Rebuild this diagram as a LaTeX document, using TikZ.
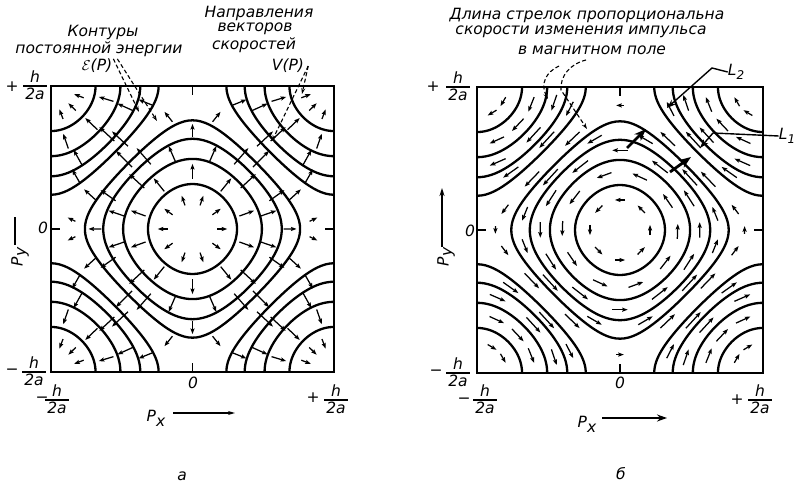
\documentclass[tikz,border=0pt]{standalone}
\usepackage{fontspec}
\setmainfont{DejaVu Sans}
\usetikzlibrary{arrows.meta}

% ring of field arrows: #1 level, #2 parameter list, #3 wrap to corners (0/1), #4 mode (0 gradient, 1 rotated)
\newcommand\vecring[4]{%
  \foreach \tv in {#2}{%
    \pgfmathsetmacro\xo{acos(#1-1)}%
    \pgfmathsetmacro\ax{\xo*sin(\tv)}%
    \pgfmathsetmacro\ay{ifthenelse(cos(\tv)<0,-1,1)*acos(max(-1,min(1,#1-cos(\ax))))}%
    \ifnum#3=1
      \pgfmathsetmacro\ax{ifthenelse(\ax<0,\ax+180,\ax-180)}%
      \pgfmathsetmacro\ay{ifthenelse(\ay<0,\ay+180,\ay-180)}%
    \fi
    \pgfmathsetmacro\vx{sin(\ax)}%
    \pgfmathsetmacro\vy{sin(\ay)}%
    \pgfmathsetmacro\vm{max(sqrt(\vx*\vx+\vy*\vy),0.001)}%
    \pgfmathsetmacro\hl{(5+18*(\vm/1.4142)^1.5)/0.79/2}%
    \ifnum#4=0
      \pgfmathsetmacro\hx{(\vx)/\vm*\hl}\pgfmathsetmacro\hy{(\vy)/\vm*\hl}%
    \else
      \pgfmathsetmacro\hx{0-(\vy)/\vm*\hl}\pgfmathsetmacro\hy{(\vx)/\vm*\hl}%
    \fi
    \draw[varr] ({\ax-(\hx)},{\ay-(\hy)}) -- ({\ax+(\hx)},{\ay+(\hy)});
  }%
}

\newcommand\contourset{%
  \foreach \lev in {1.55,1.03,0.60,0.27}{%
    \pgfmathsetmacro\xo{acos(\lev-1)}%
    \draw[cont] plot[domain=0:360,samples=161,variable=\tv]
      ({\xo*sin(\tv)},{ifthenelse(cos(\tv)<0,-1,1)*acos(max(-1,min(1,\lev-cos(\xo*sin(\tv)))))}) -- cycle;
    \begin{scope}
      \clip (-180,-180) rectangle (180,180);
      \foreach \sx/\sy in {180/180,180/-180,-180/180,-180/-180}{%
        \draw[cont,shift={(\sx,\sy)}] plot[domain=0:360,samples=161,variable=\tv]
          ({\xo*sin(\tv)},{ifthenelse(cos(\tv)<0,-1,1)*acos(max(-1,min(1,\lev-cos(\xo*sin(\tv)))))}) -- cycle;
      }
    \end{scope}
  }
  \draw[frame] (-180,-180) rectangle (180,180);
  \draw[tick] (0,180) -- (0,169);
  \draw[tick] (0,-180) -- (0,-169);
  \draw[tick] (-180,0) -- (-169,0);
  \draw[tick] (180,0) -- (169,0);
}

\begin{document}
\begin{tikzpicture}[x=1pt,y=-1pt,
  cont/.style={line width=2.3pt,line join=round},
  frame/.style={line width=2pt},
  tick/.style={line width=1.2pt},
  varr/.style={line width=1.25pt,-{Stealth[length=5.5pt,width=4pt,inset=0.8pt]}},
  dsh/.style={line width=1.1pt,dash pattern=on 4pt off 2.5pt,-{Stealth[length=6pt,width=4pt]}},
  larr/.style={line width=1.4pt,-{Stealth[length=9pt,width=6pt]}},
  barr/.style={line width=2.8pt,-{Stealth[length=12pt,width=9pt]}},
  lbl/.style={font=\fontsize{15.5}{17}\selectfont\itshape,inner sep=0pt},
  hfr/.pic={
    \node[lbl,anchor=base] (-n) at (0,-3) {h};
    \draw[line width=1.2pt] (-12,0) -- (12,0);
    \node[lbl,anchor=base] (-d) at (0,14) {2a};
  }]
\useasboundingbox (0,0) rectangle (796,486);

% ---------------- left panel ----------------
\begin{scope}[shift={(192.5,229)},x=0.786pt,y=0.794pt]
  \contourset
  \vecring{1.79}{18,54,...,342}{0}{0}
  \vecring{1.3}{0,36,...,324}{0}{0}
  \vecring{0.82}{15,45,...,345}{0}{0}
  \vecring{0.44}{0,30,...,330}{0}{0}
  \vecring{0.08}{11.25,33.75,...,348.75}{0}{0}
  \vecring{1.79}{20,45,70,110,135,160,200,225,250,290,315,340}{1}{0}
  \vecring{1.3}{15,45,75,105,135,165,195,225,255,285,315,345}{1}{0}
  \vecring{0.82}{20,45,70,110,135,160,200,225,250,290,315,340}{1}{0}
  \vecring{0.44}{15,45,75,105,135,165,195,225,255,285,315,345}{1}{0}
\end{scope}

% ---------------- right panel ----------------
\begin{scope}[shift={(620,230)},x=0.794pt,y=0.794pt]
  \contourset
  \vecring{1.79}{0,45,...,315}{0}{1}
  \vecring{1.3}{20,56,...,344}{0}{1}
  \vecring{0.82}{0,30,...,330}{0}{1}
  \vecring{0.44}{15,45,...,345}{0}{1}
  \vecring{0.08}{0,22.5,...,337.5}{0}{1}
  \vecring{1.79}{30,60,120,150,210,240,300,330}{1}{1}
  \vecring{1.3}{20,45,70,110,135,160,200,225,250,290,315,340}{1}{1}
  \vecring{0.82}{15,45,75,105,135,165,195,225,255,285,315,345}{1}{1}
  \vecring{0.44}{20,45,70,110,135,160,200,225,250,290,315,340}{1}{1}
\end{scope}

% ---------------- left panel labels ----------------
\node[lbl] (k1) at (103,32) {Контуры};
\node[lbl] (k2) at (99,49) {постоянной энергии};
\node[lbl] (eps) at (97,66) {$\mathcal{E}$(P)};
\node[lbl] (n1) at (259,13) {Направления};
\node[lbl] (n2) at (255,29) {векторов};
\node[lbl] (n3) at (254,45) {скоростей};
\node[lbl] (vp) at (288,66) {V(P)};
\coordinate (e1) at (139,112);
\coordinate (e2) at (157,121);
\coordinate (v1) at (302,94);
\coordinate (v2) at (272,141);
\draw[dsh] ([xshift=1pt]eps.north east) -- (e1);
\draw[dsh] ([xshift=5pt]eps.north east) -- (e2);
\draw[dsh] ([xshift=4pt]vp.east) -- (v1);
\draw[dsh] ([xshift=4pt]vp.east) -- (v2);

\node[lbl] (lp1) at (12,87) {+};
\pic (lf1) at (35,86) {hfr};
\node[lbl] (lz1) at (43,228) {0};
\node[lbl] (lm1) at (12,372) {−};
\pic (lf2) at (34,372) {hfr};
\node[lbl] (lm2) at (42,400) {−};
\pic (lf3) at (57,400) {hfr};
\node[lbl] (lz2) at (193,383) {0};
\node[lbl] (lp2) at (313,398) {+};
\pic (lf4) at (336,400) {hfr};
\node[lbl,rotate=90] (lpy) at (20,257) {P\raisebox{-3pt}{y}};
\coordinate (lpya) at (15,245);
\coordinate (lpyb) at (15,217);
\draw[line width=1.5pt] (lpya) -- (lpyb);
\node[lbl] (lpx) at (156,418) {P\raisebox{-5pt}{x}};
\coordinate (lpxa) at (173,413);
\coordinate (lpxb) at (235,413);
\draw[line width=1.5pt,-{Stealth[length=7pt,width=4pt]}] (lpxa) -- (lpxb);
\node[lbl] (capa) at (182,476) {а};

% ---------------- right panel labels ----------------
\node[lbl] (d1) at (587,15) {Длина стрелок пропорциональна};
\node[lbl] (d2) at (581,32) {скорости изменения импульса};
\node[lbl] (d3) at (592,50) {в магнитном поле};
\coordinate (c1s) at (559,66);
\coordinate (c1e) at (548,99);
\coordinate (c2s) at (586,60);
\coordinate (c2m) at (561,90);
\coordinate (c2e) at (587,129);
\draw[dsh] (c1s) .. controls (546,72) and (540,84) .. (c1e);
\draw[dsh] (c2s) .. controls (570,64) and (560,76) .. (c2m) -- (c2e);

\node[lbl] (L2) at (736,72) {L\raisebox{-4pt}{\fontsize{12}{12}\selectfont 2}};
\coordinate (L2k) at (712,68);
\coordinate (L2t) at (667,108);
\draw[larr] (L2.west) -- (L2k) -- (L2t);
\node[lbl] (L1) at (787,136) {L\raisebox{-4pt}{\fontsize{12}{12}\selectfont 1}};
\coordinate (L1k) at (713,133);
\coordinate (L1t) at (700,148);
\draw[larr] (L1.west) -- (L1k) -- (L1t);
\coordinate (b1a) at (627,148);
\coordinate (b1b) at (646,129);
\coordinate (b2a) at (670,172);
\coordinate (b2b) at (691,157);
\draw[barr] (b1a) -- (b1b);
\draw[barr] (b2a) -- (b2b);

\node[lbl] (rp1) at (433,87) {+};
\pic (rf1) at (458,87) {hfr};
\node[lbl] (rz1) at (470,231) {0};
\node[lbl] (rm1) at (436,373) {−};
\pic (rf2) at (458,373) {hfr};
\node[lbl] (rm2) at (464,401) {−};
\pic (rf3) at (485,400) {hfr};
\node[lbl] (rz2) at (620,383) {0};
\node[lbl] (rp2) at (737,400) {+};
\pic (rf4) at (760,400) {hfr};
\node[lbl,rotate=90] (rpy) at (446,257) {P\raisebox{-3pt}{y}};
\coordinate (rpya) at (442,247);
\coordinate (rpyb) at (442,188);
\draw[line width=1.6pt,-{Stealth[length=8pt,width=5pt]}] (rpya) -- (rpyb);
\node[lbl] (rpx) at (587,424) {P\raisebox{-5pt}{x}};
\coordinate (rpxa) at (602,418);
\coordinate (rpxb) at (667,418);
\draw[line width=2.6pt,-{Stealth[length=10pt,width=7pt]}] (rpxa) -- (rpxb);
\node[lbl] (capb) at (621,474) {б};
\end{tikzpicture}
\end{document}
